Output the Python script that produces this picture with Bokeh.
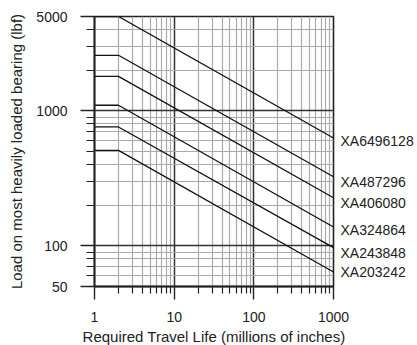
from bokeh.plotting import figure
from bokeh.models import FixedTicker, ColumnDataSource, LogAxis
from bokeh.embed import file_html
from bokeh.resources import INLINE

# ---- data ----
part_numbers = ["XA6496128", "XA487296", "XA406080", "XA324864", "XA243848", "XA203242"]
life_points = [1, 2, 1000]                      # millions of inches: start, knee, end
plateau_load = [5000, 2580, 1800, 1100, 760, 510]  # lbf for life 1..2
end_load = [630, 325, 227, 138, 97, 64]           # lbf at life 1000
label_load = [599, 298, 206, 132, 89, 64]         # label anchor heights

x_major = [1, 10, 100, 1000]
y_major = [50, 100, 1000, 5000]
x_minor = [m * d for d in (1, 10, 100) for m in range(2, 10)]
y_minor = [m * d for d in (10, 100, 1000) for m in range(2, 10) if 50 < m * d < 5000 and m * d not in (100, 1000)]

FONT = "Liberation Sans"

p = figure(x_axis_type="log", y_axis_type="log",
           x_range=(1, 1000), y_range=(50, 5000),
           frame_width=239, frame_height=270,
           min_border_left=94, min_border_right=77,
           min_border_top=16, min_border_bottom=55,
           output_backend="svg", toolbar_location=None,
           background_fill_color="white", border_fill_color="white")

p.outline_line_color = "#222222"
p.outline_line_width = 1.6

# axes
for ax in (p.xaxis[0], p.yaxis[0]):
    ax.axis_line_color = "#222222"
    ax.axis_line_width = 1.8
    ax.major_tick_line_color = "#222222"
    ax.minor_tick_line_color = "#222222"
    ax.major_tick_line_width = 1.4
    ax.minor_tick_line_width = 1.2
    ax.major_tick_in = 0
    ax.minor_tick_in = 0
    ax.major_label_text_font = FONT
    ax.major_label_text_font_size = "14px"
    ax.major_label_text_color = "#222222"
    ax.axis_label_text_font = FONT
    ax.axis_label_text_font_size = "15px"
    ax.axis_label_text_font_style = "normal"
    ax.axis_label_text_color = "#222222"

p.xaxis.ticker = FixedTicker(ticks=x_major, minor_ticks=x_minor)
p.yaxis.ticker = FixedTicker(ticks=y_major, minor_ticks=y_minor)
p.xaxis.major_label_overrides = {t: str(t) for t in x_major}
p.yaxis.major_label_overrides = {t: str(t) for t in y_major}
p.xaxis.major_tick_out = 13
p.xaxis.minor_tick_out = 7
p.yaxis.major_tick_out = 14
p.yaxis.minor_tick_out = 8
p.xaxis.major_label_standoff = 12
p.yaxis.major_label_standoff = 13
p.xaxis.axis_label = "Required Travel Life (millions of inches)"
p.yaxis.axis_label = "Load on most heavily loaded bearing (lbf)"
p.xaxis.axis_label_standoff = 3
p.yaxis.axis_label_standoff = 8

# grids
for g in (p.xgrid[0], p.ygrid[0]):
    g.grid_line_color = "#333333"
    g.grid_line_width = 1.5
    g.minor_grid_line_color = "#aaaaaa"
    g.minor_grid_line_width = 1.2
p.xgrid.ticker = FixedTicker(ticks=x_major, minor_ticks=x_minor)
p.ygrid.ticker = FixedTicker(ticks=y_major, minor_ticks=y_minor)

# curves
xs = [life_points for _ in part_numbers]
ys = [[pl, pl, el] for pl, el in zip(plateau_load, end_load)]
src = ColumnDataSource(dict(xs=xs, ys=ys, name=part_numbers))
p.multi_line("xs", "ys", source=src, line_color="#111111", line_width=1.3)

# part labels at right, drawn as an axis so they sit outside the frame
right = LogAxis(ticker=FixedTicker(ticks=label_load, minor_ticks=[]),
                major_label_overrides={v: n for v, n in zip(label_load, part_numbers)},
                axis_line_color=None, major_tick_line_color=None, minor_tick_line_color=None,
                major_tick_out=0, major_tick_in=0, major_label_standoff=7,
                major_label_text_font=FONT, major_label_text_font_size="14px",
                major_label_text_color="#222222")
p.add_layout(right, "right")

open("out.html", "w").write(file_html(p, INLINE))
